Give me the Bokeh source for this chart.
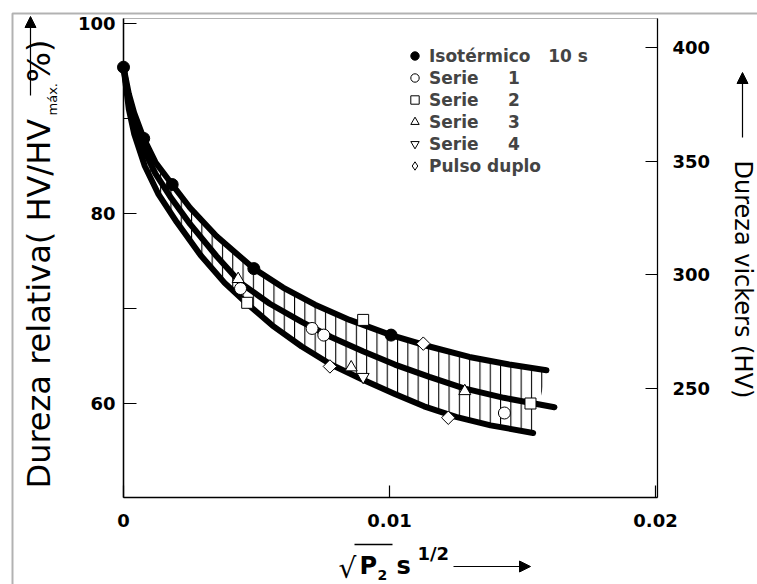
import numpy as np
from bokeh.plotting import figure
from bokeh.models import (Range1d, LinearAxis, FixedTicker, Legend, LegendItem,
                          Label, Arrow, NormalHead, BoxAnnotation)
from bokeh.embed import file_html
from bokeh.resources import INLINE

# ---- measured points (x = sqrt(P2) in s^1/2, y = relative hardness %) ----
iso_x = [0.0, 0.00076, 0.00183, 0.0049, 0.01006]
iso_y = [95.4, 87.9, 83.05, 74.2, 67.2]

s1_x = [0.0044, 0.00709, 0.00753, 0.01432]
s1_y = [72.1, 67.9, 67.2, 59.0]

s2_x = [0.00465, 0.00901, 0.0153]
s2_y = [70.6, 68.8, 60.0]

s3_x = [0.00431, 0.00856, 0.01283]
s3_y = [73.1, 63.8, 61.3]

s4_x = [0.00901]
s4_y = [62.8]

pd_x = [0.00776, 0.01127, 0.01221]
pd_y = [63.9, 66.3, 58.5]

# ---- fitted curves ----
upper_x = [0.0, 0.0002, 0.0004, 0.00076, 0.0012, 0.00183, 0.0025, 0.0035, 0.0049,
           0.0060, 0.0072, 0.0085, 0.01006, 0.0115, 0.0130, 0.0145, 0.0159]
upper_y = [95.4, 92.6, 90.6, 87.9, 85.4, 83.05, 80.6, 77.6, 74.2,
           72.2, 70.4, 68.8, 67.2, 66.0, 64.9, 64.1, 63.5]

mid_x = [0.0, 0.0002, 0.0004, 0.0008, 0.0012, 0.0018, 0.0025, 0.0035, 0.0044,
         0.0055, 0.0067, 0.0078, 0.0090, 0.0102, 0.0115, 0.0128, 0.0143, 0.0162]
mid_y = [95.4, 91.8, 89.6, 86.5, 84.2, 81.6, 78.9, 75.5, 72.7,
         70.5, 68.6, 67.0, 65.5, 64.1, 62.8, 61.6, 60.6, 59.6]

lower_x = [0.0, 0.0002, 0.0004, 0.0008, 0.0013, 0.0020, 0.0029, 0.0038, 0.00465,
           0.0056, 0.0067, 0.0078, 0.0090, 0.0102, 0.0113, 0.0125, 0.0138, 0.0154]
lower_y = [95.4, 91.0, 88.4, 85.0, 82.1, 79.1, 75.6, 72.7, 70.5,
           68.2, 66.0, 64.1, 62.5, 61.0, 59.7, 58.6, 57.7, 56.9]

# ---- axes ----
x_ticks = [0.0, 0.01, 0.02]
x_tick_labels = ["0", "0.01", "0.02"]
y_ticks = [60, 80, 100]
y_minor_ticks = [70, 90]
hv_ticks = [250, 300, 350, 400]

X_MIN, X_MAX = 0.0, 0.020075          # plot box, x
Y_MIN, Y_MAX = 50.105, 100.526        # plot box, relative hardness
HV_MIN, HV_MAX = 202.05, 412.76       # plot box, Vickers hardness

W, H = 757, 584
FONT = "DejaVu Sans"

# the data frame fills the whole canvas; axes sit at fixed locations inside it
PX_PER_X = 26600.0
PX_PER_Y = 9.5
X0_PX, Y80_PX = 123.0, 213.0
x_lo = X_MIN - X0_PX / PX_PER_X
x_hi = X_MIN + (W - X0_PX) / PX_PER_X
y_hi = 80 + Y80_PX / PX_PER_Y
y_lo = 80 - (H - Y80_PX) / PX_PER_Y
hv_per_px = 150.0 / 341.0
hv_hi = 400 + 47 * hv_per_px
hv_lo = 400 - (H - 47) * hv_per_px

p = figure(width=W, height=H, x_range=Range1d(x_lo, x_hi), y_range=Range1d(y_lo, y_hi),
           output_backend="svg", toolbar_location=None, title=None, min_border=0)
p.grid.visible = False
p.outline_line_color = None
p.background_fill_color = "white"
p.border_fill_color = "white"


def sx(cx):
    return cx


def sy(cy):
    return H - cy


# bottom axis
xa = p.xaxis[0]
xa.fixed_location = Y_MIN
xa.bounds = (X_MIN, X_MAX)
xa.ticker = FixedTicker(ticks=x_ticks)
xa.major_label_overrides = {t: s for t, s in zip(x_ticks, x_tick_labels)}
xa.major_tick_in = 12
xa.major_tick_out = 0
xa.minor_tick_line_color = None
xa.major_label_standoff = 16
xa.axis_line_width = 1.5

# left axis
ya = p.yaxis[0]
ya.fixed_location = X_MIN
ya.bounds = (Y_MIN, Y_MAX)
ya.ticker = FixedTicker(ticks=y_ticks, minor_ticks=y_minor_ticks)
ya.major_tick_in = 13
ya.major_tick_out = 0
ya.minor_tick_in = 13
ya.minor_tick_out = 0
ya.major_label_standoff = 8
ya.axis_line_width = 1.5

# right axis: Vickers hardness
p.extra_y_ranges = {"hv": Range1d(hv_lo, hv_hi)}
ra = LinearAxis(y_range_name="hv", ticker=FixedTicker(ticks=hv_ticks),
                fixed_location=X_MAX, bounds=(HV_MIN, HV_MAX))
ra.major_tick_in = 12
ra.major_tick_out = 0
ra.minor_tick_line_color = None
ra.major_label_standoff = 15
ra.axis_line_width = 1.2
p.add_layout(ra, "right")

for ax in (xa, ya, ra):
    ax.major_label_text_font = FONT
    ax.major_label_text_font_style = "bold"
    ax.major_label_text_font_size = "18px"
    ax.major_label_text_color = "black"
    ax.axis_line_color = "black"
    ax.major_tick_line_color = "black"
    ax.major_tick_line_width = 1.2
ya.minor_tick_line_color = "black"
ya.minor_tick_line_width = 1.2

# plot box
p.add_layout(BoxAnnotation(left=X_MIN, right=X_MAX, bottom=Y_MIN, top=Y_MAX,
                           fill_alpha=0, line_color="black", line_width=1.2))

# hatched band between upper and lower curves
band_x = list(upper_x) + list(lower_x[::-1])
band_y = list(upper_y) + list(lower_y[::-1])
p.patch(band_x, band_y, fill_alpha=0, line_alpha=0,
        hatch_pattern="|", hatch_color="black", hatch_weight=1.1, hatch_scale=10.3)

# curves
for cx_, cy_ in ((upper_x, upper_y), (mid_x, mid_y), (lower_x, lower_y)):
    p.line(cx_, cy_, line_color="black", line_width=6, line_cap="round", line_join="round")

# points
mk = dict(line_color="black", line_width=1, fill_color="white")
r_iso = p.scatter(iso_x, iso_y, marker="circle", size=12, fill_color="black", line_color="black")
r_s1 = p.scatter(s1_x, s1_y, marker="circle", size=12, **mk)
r_s2 = p.scatter(s2_x, s2_y, marker="square", size=11, **mk)
r_s3 = p.scatter(s3_x, s3_y, marker="triangle", size=12, **mk)
r_s4 = p.scatter(s4_x, s4_y, marker="inverted_triangle", size=12, **mk)
# double-pulse points: a diamond key (used by the legend) under squares turned by 45 degrees
r_pd = p.scatter(pd_x, pd_y, marker="diamond", size=12, **mk)
p.scatter(pd_x, pd_y, marker="square", size=9.5, angle=np.pi / 4, **mk)

NB = "\u00a0"
legend = Legend(items=[
    LegendItem(label="Isotérmico" + NB * 3 + "10 s", renderers=[r_iso]),
    LegendItem(label="Serie" + NB * 5 + "1", renderers=[r_s1]),
    LegendItem(label="Serie" + NB * 5 + "2", renderers=[r_s2]),
    LegendItem(label="Serie" + NB * 5 + "3", renderers=[r_s3]),
    LegendItem(label="Serie" + NB * 5 + "4", renderers=[r_s4]),
    LegendItem(label="Pulso duplo", renderers=[r_pd]),
], location=(sx(404), sy(176)), glyph_width=21, glyph_height=21, spacing=1,
    padding=0, margin=0, label_standoff=4, border_line_alpha=0,
    background_fill_alpha=0, label_text_font=FONT, label_text_font_style="bold",
    label_text_font_size="17px", label_height=21)
p.add_layout(legend, "center")


# ---- axis titles ----
def lbl(text, cx, cy, size, angle=0.0, style="normal", align="left", baseline="middle"):
    p.add_layout(Label(x=sx(cx), y=sy(cy), x_units="screen", y_units="screen",
                       text=text, angle=angle, text_font=FONT, text_font_size=f"{size}px",
                       text_font_style=style, text_align=align, text_baseline=baseline,
                       text_color="black"))


def arrow(x0, y0, x1, y1, head=True, width=1.2):
    p.add_layout(Arrow(x_start=sx(x0), y_start=sy(y0), x_end=sx(x1), y_end=sy(y1),
                       start_units="screen", end_units="screen",
                       end=NormalHead(size=11, fill_color="black", line_color="black") if head else None,
                       line_color="black", line_width=width))


# left title (reads bottom to top)
lbl("Dureza relativa( HV/HV", 38, 488, 32, angle=np.pi / 2)
lbl("máx.", 52, 115, 13, angle=np.pi / 2)
lbl("%)", 38, 82, 32, angle=np.pi / 2)
arrow(30, 95, 30, 16)

# right title (reads top to bottom)
lbl("Dureza vickers (HV)", 742, 160, 24, angle=-np.pi / 2)
arrow(742, 137, 742, 72)

# bottom title: sqrt(P2) s^1/2
lbl("√", 338, 568, 28, baseline="alphabetic")
arrow(354, 544, 392, 544, head=False, width=1.5)
lbl("P", 359, 565, 24, style="bold", baseline="alphabetic")
lbl("2", 377, 574, 14, style="bold", baseline="alphabetic")
lbl("s", 396, 565, 24, style="bold", baseline="alphabetic")
lbl("1/2", 417, 553, 18, style="bold", baseline="alphabetic")
arrow(453, 566, 530, 566)

# page frame
p.add_layout(BoxAnnotation(left=12, right=W + 50, top=sy(13), bottom=-50,
                           left_units="screen", right_units="screen",
                           top_units="screen", bottom_units="screen",
                           fill_alpha=0, line_color="black", line_width=2))

open("out.html", "w").write(file_html(p, INLINE))
